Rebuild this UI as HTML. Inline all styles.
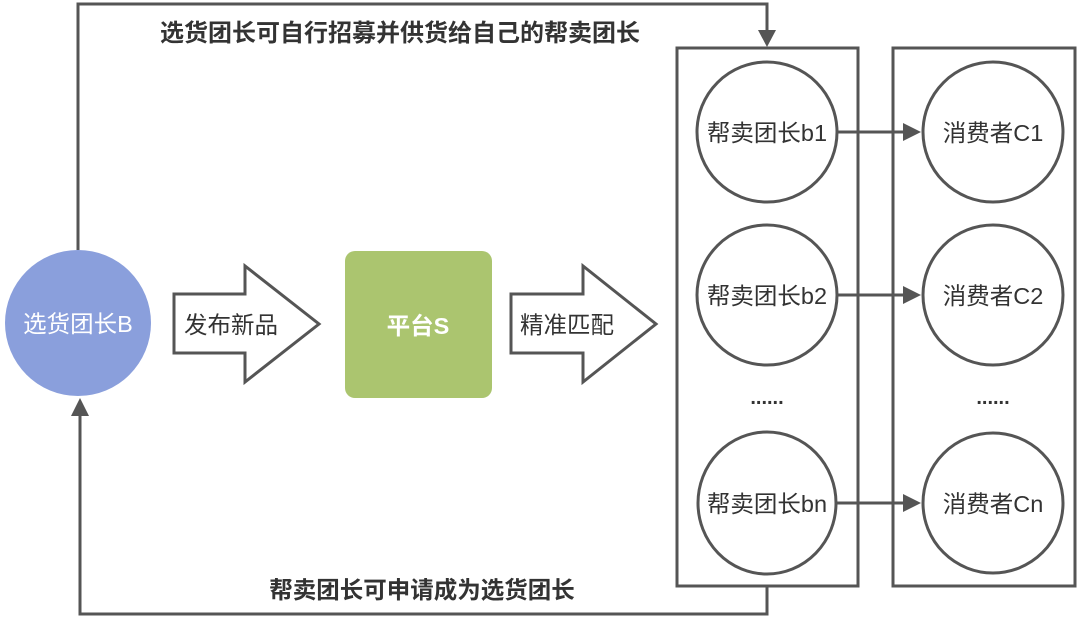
<!DOCTYPE html>
<html><head><meta charset="utf-8"><style>
html,body{margin:0;padding:0;background:#fff;}
svg{display:block;}
text{font-family:"Liberation Sans","Noto Sans CJK SC",sans-serif;}
</style></head><body>
<svg width="1080" height="620" viewBox="0 0 1080 620">
<g stroke="#555" stroke-width="3" fill="none">
<polyline points="78,250 78,4 767,4 767,34"/>
<polyline points="767,586 767,614 80,614 80,412"/>
<rect x="677" y="48" width="181" height="538"/>
<rect x="893" y="48" width="182" height="538"/>
<circle cx="767" cy="132" r="70"/>
<circle cx="767" cy="295" r="70"/>
<ellipse cx="767" cy="503" rx="69" ry="71"/>
<circle cx="993" cy="132" r="70"/>
<circle cx="993" cy="295" r="70"/>
<circle cx="993" cy="503" r="70"/>
<line x1="837" y1="132" x2="905" y2="132"/>
<line x1="837" y1="295" x2="905" y2="295"/>
<line x1="836" y1="503" x2="905" y2="503"/>
</g>
<path d="M758,30 L776,30 L767,47 z" fill="#555"/>
<path d="M71,416 L89,416 L80,398 z" fill="#555"/>
<path d="M903,123 L921,132 L903,141 z" fill="#555"/>
<path d="M903,286 L921,295 L903,304 z" fill="#555"/>
<path d="M903,494 L921,503 L903,512 z" fill="#555"/>
<path d="M174,294 L245,294 L245,266 L319,324 L245,382 L245,353 L174,353 z" fill="#fff" stroke="#555" stroke-width="3"/>
<path d="M511,294 L583,294 L583,266 L656,324 L583,382 L583,353 L511,353 z" fill="#fff" stroke="#555" stroke-width="3"/>
<circle cx="78" cy="323" r="73" fill="#8a9fdc"/>
<rect x="345" y="251" width="147" height="147" rx="10" fill="#abc56f"/>
<g font-size="23.5" fill="#333" text-anchor="middle">
<text x="400" y="41" font-weight="bold" font-size="24">选货团长可自行招募并供货给自己的帮卖团长</text>
<text x="422" y="598" font-weight="bold" font-size="23.5">帮卖团长可申请成为选货团长</text>
<text x="78" y="332" fill="#fff">选货团长B</text>
<text x="418" y="334" fill="#fff" font-weight="bold">平台S</text>
<text x="231" y="333">发布新品</text>
<text x="567" y="333">精准匹配</text>
<text x="767" y="141">帮卖团长b1</text>
<text x="767" y="304">帮卖团长b2</text>
<text x="767" y="512">帮卖团长bn</text>
<text x="993" y="141">消费者C1</text>
<text x="993" y="304">消费者C2</text>
<text x="993" y="512">消费者Cn</text>
<text x="767" y="404" font-weight="bold" font-size="20">......</text>
<text x="993" y="404" font-weight="bold" font-size="20">......</text>
</g>
</svg>
</body></html>
